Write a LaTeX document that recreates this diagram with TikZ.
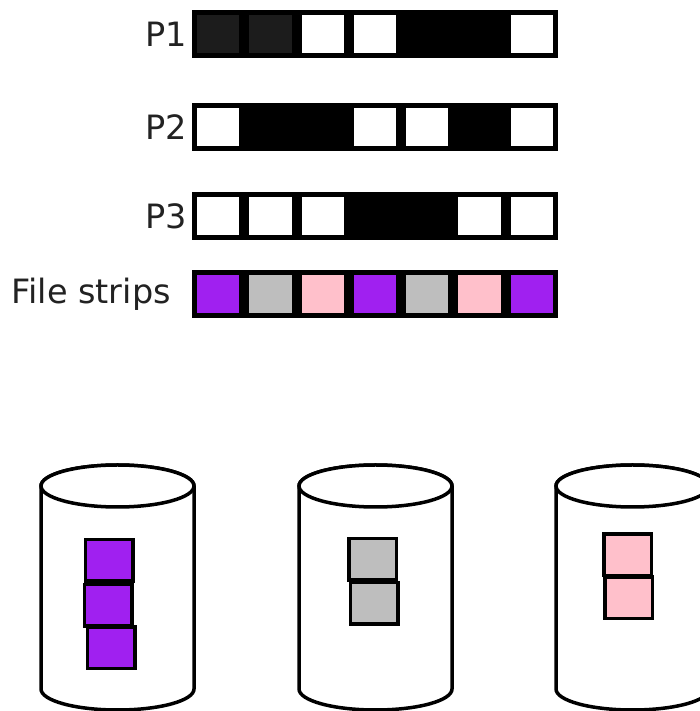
\documentclass[tikz,border=0pt]{standalone}
\usepackage{fontspec}
\setmainfont{DejaVu Sans}
\definecolor{cpurple}{HTML}{A020F0}
\definecolor{cgray}{HTML}{BEBEBE}
\definecolor{cpink}{HTML}{FFC0CB}
\definecolor{cdark}{HTML}{1C1C1C}
\definecolor{ctext}{HTML}{222222}
\begin{document}
\begin{tikzpicture}[x=1pt,y=1pt,
  cell/.style={rectangle, draw=black, line width=5pt, minimum width=47.3pt, minimum height=43pt, inner sep=0pt, outer sep=0pt},
  blk/.style={rectangle, draw=black, line width=3.5pt, minimum width=47.5pt, minimum height=41.5pt, inner sep=0pt},
  lab/.style={anchor=east, inner sep=0pt, text=ctext, font=\fontsize{33.5}{38}\selectfont},
  cyl/.style={draw=black, line width=3.5pt, fill=white}]
\clip (0,0) rectangle (700,711);
\fill[white] (0,0) rectangle (700,711);
% bars
\foreach \row/\y/\cols in {p1/677/{cdark,cdark,white,white,black,black,white},
                          p2/584/{white,black,black,white,white,black,white},
                          p3/495/{white,white,white,black,black,white,white},
                          fs/417/{cpurple,cgray,cpink,cpurple,cgray,cpink,cpurple}}{
  \foreach \c [count=\i] in \cols
    \node[cell, fill=\c] (\row c\i) at ({192+52.29*(\i-0.5)},\y) {};
}
% labels
\node[lab] (lp1) at (187,677) {P1};
\node[lab] (lp2) at (187,584) {P2};
\node[lab] (lp3) at (187,495) {P3};
\node[lab] (lfs) at (171,417) {File strips};
% drums
\foreach \cx in {117.5,375.5,632.5}{
  \path[cyl] ({\cx-76.5},225) -- ({\cx-76.5},22)
     arc[start angle=180, end angle=360, x radius=76.5, y radius=21]
     -- ({\cx+76.5},225)
     arc[start angle=0, end angle=180, x radius=76.5, y radius=21] -- cycle;
  \draw[cyl] (\cx,225) ellipse[x radius=76.5, y radius=21];
}
% blocks in drums
\node[blk, fill=cpurple] (s1a) at (109,150.5) {};
\node[blk, fill=cpurple] (s1b) at (108,105.5) {};
\node[blk, fill=cpurple] (s1c) at (111,63) {};
\node[blk, fill=cgray] (s2a) at (372.5,151.5) {};
\node[blk, fill=cgray] (s2b) at (374,107.5) {};
\node[blk, fill=cpink] (s3a) at (627.5,156) {};
\node[blk, fill=cpink] (s3b) at (628.5,113) {};
\end{tikzpicture}
\end{document}
